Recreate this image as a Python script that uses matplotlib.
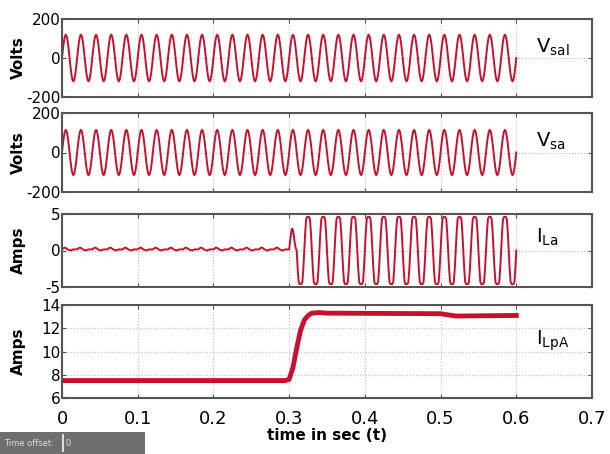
import numpy as np
import matplotlib.pyplot as plt
from matplotlib.patches import Rectangle

plt.rcParams['font.family'] = ['DejaVu Sans Condensed', 'Liberation Sans Narrow', 'DejaVu Sans']

period = 0.02
vsal_cycle = [0, 46, 85, 111, 120, 111, 85, 46, 0, -46, -85, -111, -120, -111, -85, -46]
vsa_cycle = [0, 44, 81, 106, 115, 106, 81, 44, 0, -44, -81, -106, -115, -106, -81, -44]
n_cycles = 30

ila_before = [0.15, 0.25, 0.35, 0.4, 0.35, 0.25, 0.15, 0.1, 0.05, 0.0, 0.05, 0.1, 0.15, 0.15, 0.15, 0.15]
ila_first = [0.15, 1.2, 2.3, 3.0, 2.8, 2.0, 1.0, 0.3, 0.0, -2.5, -4.3, -4.6, -4.6, -4.6, -4.3, -2.5]
ila_after = [0.0, 2.5, 4.3, 4.6, 4.6, 4.6, 4.3, 2.5, 0.0, -2.5, -4.3, -4.6, -4.6, -4.6, -4.3, -2.5]
n_before = 15
n_after = 14

ilpa_t = [0, 0.295, 0.3, 0.305, 0.31, 0.315, 0.32, 0.325, 0.33, 0.34, 0.35, 0.5, 0.52, 0.6]
ilpa_v = [7.5, 7.5, 7.6, 8.6, 10.3, 11.8, 12.7, 13.1, 13.3, 13.35, 13.3, 13.25, 13.05, 13.1]

x_ticks = [0, 0.1, 0.2, 0.3, 0.4, 0.5, 0.6, 0.7]
names = ['V$_{\\rm sal}$', 'V$_{\\rm sa}$', 'I$_{\\rm La}$', 'I$_{\\rm LpA}$']
ylabels = ['Volts', 'Volts', 'Amps', 'Amps']

red = '#c8102e'
frame = '#555555'

n = len(vsal_cycle)
dt = period / n
t_sine = np.arange(n * n_cycles + 1) * dt
vsal = np.append(np.tile(vsal_cycle, n_cycles), vsal_cycle[0])
vsa = np.append(np.tile(vsa_cycle, n_cycles), vsa_cycle[0])

ila = np.concatenate([np.tile(ila_before, n_before), ila_first,
                      np.tile(ila_after, n_after), [ila_after[0]]])
t_ila = np.arange(len(ila)) * dt

fig = plt.figure(figsize=(6.1, 4.54), dpi=100)
W, H = 610, 454
boxes = [(19, 97), (113, 192), (214, 287), (305, 398)]
axes = []
for top, bot in boxes:
    ax = fig.add_axes([62 / W, 1 - bot / H, 530 / W, (bot - top) / H])
    axes.append(ax)

axes[0].plot(t_sine, vsal, color=red, lw=1.4)
axes[1].plot(t_sine, vsa, color=red, lw=1.4)
axes[2].plot(t_ila, ila, color=red, lw=1.4)
axes[3].plot(ilpa_t, ilpa_v, color=red, lw=3.5)

ylims = [(-200, 200), (-200, 200), (-5, 5), (6, 14)]
yticks = [[-200, 0, 200], [-200, 0, 200], [-5, 0, 5], [6, 8, 10, 12, 14]]
label_y = [0.64, 0.64, 0.68, 0.62]

for i, ax in enumerate(axes):
    ax.set_xlim(0, 0.7)
    ax.set_ylim(*ylims[i])
    ax.set_yticks(yticks[i])
    ax.set_yticklabels([str(v) for v in yticks[i]], fontsize=11)
    ax.set_xticks(x_ticks)
    ax.grid(True, color='#bbbbbb', linestyle=':', linewidth=0.8)
    ax.tick_params(axis='y', direction='in', right=True, length=3, color=frame, pad=1)
    ax.tick_params(axis='x', direction='in', top=True, length=3, color=frame, pad=9)
    for s in ax.spines.values():
        s.set_color(frame)
        s.set_linewidth(1.5)
    ax.set_ylabel(ylabels[i], fontsize=11, fontweight='bold')
    ax.yaxis.set_label_coords(-0.068, 0.5)
    ax.text(0.895, label_y[i], names[i], transform=ax.transAxes, fontsize=14,
            ha='left', va='center')
    if i < 3:
        ax.set_xticklabels([])
    else:
        ax.set_xticklabels(['0', '0.1', '0.2', '0.3', '0.4', '0.5', '0.6', '0.7'], fontsize=13)
        ax.set_xlabel('time in sec (t)', fontsize=11, fontweight='bold', labelpad=0)

# "Time offset" bar at the bottom left
fig.patches.append(Rectangle((0, 0), 145 / W, 22 / H, transform=fig.transFigure,
                             facecolor='#6e6e6e', edgecolor='none'))
fig.patches.append(Rectangle((62 / W, 2 / H), 2 / W, 18 / H, transform=fig.transFigure,
                             facecolor='#dddddd', edgecolor='none'))
fig.text(4 / W, 11 / H, 'Time offset:', fontsize=6, color='#dddddd', va='center')
fig.text(66 / W, 11 / H, '0', fontsize=6, color='#dddddd', va='center')

fig.savefig('out.png', dpi=100)
